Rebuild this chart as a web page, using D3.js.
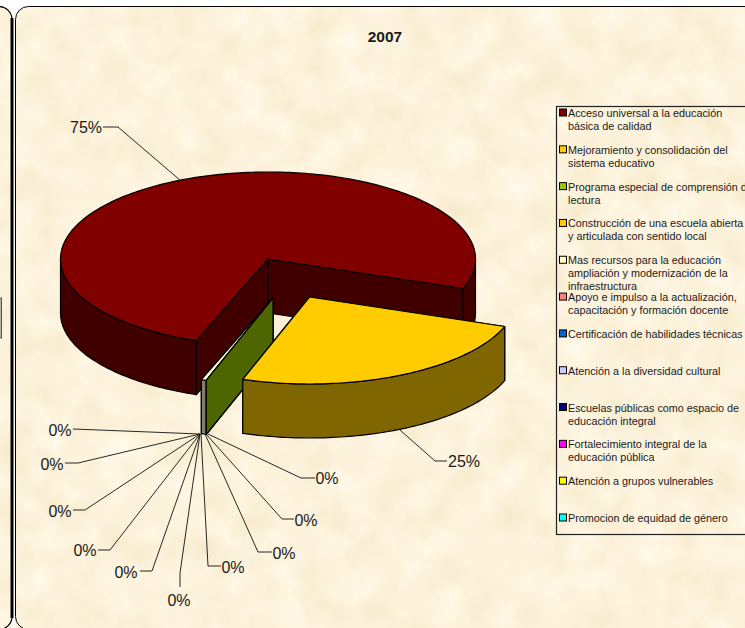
<!DOCTYPE html>
<html>
<head>
<meta charset="utf-8">
<script src="https://cdn.jsdelivr.net/npm/d3@7"></script>
<style>
  html, body { margin: 0; padding: 0; background: #fff; overflow: hidden; }
  text { font-family: "Liberation Sans", Arial, sans-serif; fill: #1a1a1a; }
</style>
</head>
<body>
<script>
// Vars for the chart
var chartTitle = '2007';
var categories = [
  'Acceso universal a la educación\nbásica de calidad',
  'Mejoramiento y consolidación del\nsistema educativo',
  'Programa especial de comprensión de\nlectura',
  'Construcción de una escuela abierta\ny articulada con sentido local',
  'Mas recursos para la educación\nampliación y modernización de la\ninfraestructura',
  'Apoyo e impulso a la actualización,\ncapacitación y formación docente',
  'Certificación de habilidades técnicas',
  'Atención a la diversidad cultural',
  'Escuelas públicas como espacio de\neducación integral',
  'Fortalecimiento integral de la\neducación pública',
  'Atención a grupos vulnerables',
  'Promocion de equidad de género'
];
var values = [74.9, 24.7, 0, 0, 0.4, 0, 0, 0, 0, 0, 0, 0];
var colors = ['#800000', '#ffcc00', '#99cc00', '#ffcc00', '#ffffcc', '#ff8080',
  '#0066cc', '#ccccff', '#000080', '#ff00ff', '#ffff00', '#00ffff'];

// Width and Height of the whole visualization
var width = 745,
  height = 628;

// Pie geometry: ellipse radii, wall height and how far the pulled slices move
var cx = 268, cy = 259, rx = 207.5, ry = 87, depth = 54;
var firstAngle = (110.2 + 90) * Math.PI / 180;
var pulled = { 1: [41.5, 38], 2: [5, 39], 3: [5, 39], 4: [5, 39] };

// Data label placement: text anchor, then the leader line, from label to pie
var labelLayout = [
  { x: 86, y: 127, anchor: 'middle', line: [[103, 127], [118, 127], [181, 181]] },
  { x: 464, y: 461, anchor: 'middle', line: [[447, 461], [435, 461], [400, 430]] },
  { x: 327, y: 478, anchor: 'middle', line: [[315, 478], [301, 478], [208, 434]] },
  { x: 306, y: 520, anchor: 'middle', line: [[294, 519], [282, 519], [206, 434]] },
  { x: 284, y: 553, anchor: 'middle', line: [[272, 552], [258, 552], [205, 434]] },
  { x: 233, y: 567, anchor: 'middle', line: [[221, 566], [208, 566], [201, 434]] },
  { x: 179, y: 600, anchor: 'middle', line: [[180, 587], [180, 573], [200, 434]] },
  { x: 126, y: 572, anchor: 'middle', line: [[140, 571], [152, 571], [200, 434]] },
  { x: 85, y: 550, anchor: 'middle', line: [[98, 550], [110, 550], [200, 434]] },
  { x: 60, y: 511, anchor: 'middle', line: [[73, 510], [85, 510], [200, 434]] },
  { x: 52, y: 464, anchor: 'middle', line: [[65, 463], [78, 463], [200, 434]] },
  { x: 60, y: 430, anchor: 'middle', line: [[73, 429], [86, 429.5], [200, 434]] }
];

var svg = d3.select('body')
  .append('svg')
  .attr('width', width)
  .attr('height', height)
  .style('display', 'block');

// Parchment texture for the two panels
var filter = svg.append('defs').append('filter')
  .attr('id', 'parchment')
  .attr('x', 0).attr('y', 0).attr('width', 1).attr('height', 1)
  .attr('color-interpolation-filters', 'sRGB');
filter.append('feTurbulence')
  .attr('type', 'fractalNoise')
  .attr('baseFrequency', 0.03)
  .attr('numOctaves', 3)
  .attr('seed', 7);
filter.append('feColorMatrix')
  .attr('values', '0.05 0 0 0 0.965  0.08 0 0 0 0.91  0.16 0 0 0 0.78  0 0 0 0 1');
filter.append('feComposite')
  .attr('in2', 'SourceAlpha')
  .attr('operator', 'in');

// Panels
svg.append('rect')
  .attr('x', -30).attr('y', 6.5).attr('width', 42).attr('height', 640).attr('rx', 13)
  .attr('fill', '#000').attr('filter', 'url(#parchment)');
svg.append('rect')
  .attr('x', 15.5).attr('y', 6.5).attr('width', 780).attr('height', 640).attr('rx', 13)
  .attr('fill', '#000').attr('filter', 'url(#parchment)');
svg.append('rect')
  .attr('x', -30).attr('y', 6.5).attr('width', 42).attr('height', 623).attr('rx', 13)
  .attr('fill', 'none').attr('stroke', '#000').attr('stroke-width', 1.2);
svg.append('rect')
  .attr('x', 15.5).attr('y', 6.5).attr('width', 780).attr('height', 623).attr('rx', 13)
  .attr('fill', 'none').attr('stroke', '#000').attr('stroke-width', 1);
svg.append('line')
  .attr('x1', 12).attr('x2', 12).attr('y1', 18).attr('y2', 618)
  .attr('stroke', '#000').attr('stroke-width', 3);
svg.append('rect')
  .attr('x', -3).attr('y', 298).attr('width', 4.5).attr('height', 40)
  .attr('fill', '#b8b4a8').attr('stroke', '#555');

// Slices come from d3.pie, kept in the file's order and clockwise from firstAngle
var pie = d3.pie()
  .sort(null)
  .startAngle(firstAngle)
  .endAngle(firstAngle + 2 * Math.PI)
  .value(function(d) { return d; });
var slices = pie(values);

var line = d3.line();

function offset(i) {
  return pulled[i] || [0, 0];
}

// Point on the rim for a pie angle
function rim(a, i, drop) {
  var o = offset(i);
  return [cx + o[0] + rx * Math.sin(a), cy + o[1] - ry * Math.cos(a) + (drop || 0)];
}

function rimPoints(a0, a1, i, drop) {
  var n = Math.max(2, Math.ceil((a1 - a0) / 0.02));
  return d3.range(n + 1).map(function(k) {
    return rim(a0 + (a1 - a0) * k / n, i, drop);
  });
}

function apex(i, drop) {
  var o = offset(i);
  return [cx + o[0], cy + o[1] + (drop || 0)];
}

function shade(c) {
  var r = d3.rgb(c);
  return d3.rgb(r.r / 2, r.g / 2, r.b / 2).formatHex();
}

var pieG = svg.append('g')
  .attr('stroke', '#000')
  .attr('stroke-width', 1.2)
  .attr('stroke-linejoin', 'round');

function drawPoly(points, fill) {
  pieG.append('path')
    .attr('d', line(points) + 'Z')
    .attr('fill', fill);
}

// Cut face of a slice at one of its radial edges
function drawCut(a, i, fill) {
  drawPoly([apex(i), rim(a, i), rim(a, i, depth), apex(i, depth)], fill);
}

// Rim wall, only the part of the arc that faces the viewer
function drawWall(a0, a1, i, fill) {
  [[Math.PI / 2, 3 * Math.PI / 2], [2.5 * Math.PI, 3.5 * Math.PI]].forEach(function(front) {
    var s = Math.max(a0, front[0]), e = Math.min(a1, front[1]);
    if (e > s) {
      drawPoly(rimPoints(s, e, i).concat(rimPoints(s, e, i, depth).reverse()), fill);
    }
  });
}

function drawTop(a0, a1, i, fill) {
  drawPoly([apex(i)].concat(rimPoints(a0, a1, i)), fill);
}

function drawSlice(s) {
  var i = s.index, c = colors[i], dark = shade(c);
  drawCut(s.startAngle, i, dark);
  if (s.endAngle === s.startAngle) return;
  drawCut(s.endAngle, i, dark);
  drawWall(s.startAngle, s.endAngle, i, dark);
  drawTop(s.startAngle, s.endAngle, i, c);
}

// Painter's order, back to front
drawSlice(slices[0]);
drawSlice(slices[4]);
drawSlice(slices[3]);
drawSlice(slices[2]);
drawSlice(slices[1]);

// Data labels
var pct = d3.format('.0f');
var labels = svg.append('g');
labels.selectAll('path')
  .data(labelLayout)
  .enter()
  .append('path')
  .attr('d', function(d) { return line(d.line); })
  .attr('fill', 'none')
  .attr('stroke', '#111')
  .attr('stroke-width', 0.9);

// Labels fan round the pie in this order, so each one maps to a slice
var labelOrder = [0, 1, 11, 10, 9, 8, 7, 6, 5, 4, 3, 2];
labels.selectAll('text')
  .data(labelLayout)
  .enter()
  .append('text')
  .attr('x', function(d) { return d.x; })
  .attr('y', function(d) { return d.y + 5.5; })
  .attr('text-anchor', function(d) { return d.anchor; })
  .attr('font-size', 16)
  .text(function(d, i) { return pct(values[labelOrder[i]]) + '%'; });

// Title
svg.append('text')
  .attr('x', 385)
  .attr('y', 42)
  .attr('text-anchor', 'middle')
  .attr('font-size', 15.5)
  .attr('font-weight', 'bold')
  .text(chartTitle);

// Legend
var legend = svg.append('g');
legend.append('rect')
  .attr('x', 556.5).attr('y', 106.5).attr('width', 220).attr('height', 428)
  .attr('fill', 'none').attr('stroke', '#222').attr('stroke-width', 1.2);

var rowY = d3.scaleLinear().domain([0, categories.length - 1]).range([113, 518]);

var rows = legend.selectAll('g.row')
  .data(categories)
  .enter()
  .append('g')
  .attr('class', 'row')
  .attr('transform', function(d, i) { return 'translate(0,' + rowY(i) + ')'; });

rows.append('rect')
  .attr('x', 559.5).attr('y', -4).attr('width', 7).attr('height', 7)
  .attr('fill', function(d, i) { return colors[i]; })
  .attr('stroke', '#000');

rows.each(function(d) {
  var row = d3.select(this);
  d.split('\n').forEach(function(t, k) {
    row.append('text')
      .attr('x', 568)
      .attr('y', 4 + k * 13)
      .attr('font-size', 10.8)
      .text(t);
  });
});
</script>
</body>
</html>
